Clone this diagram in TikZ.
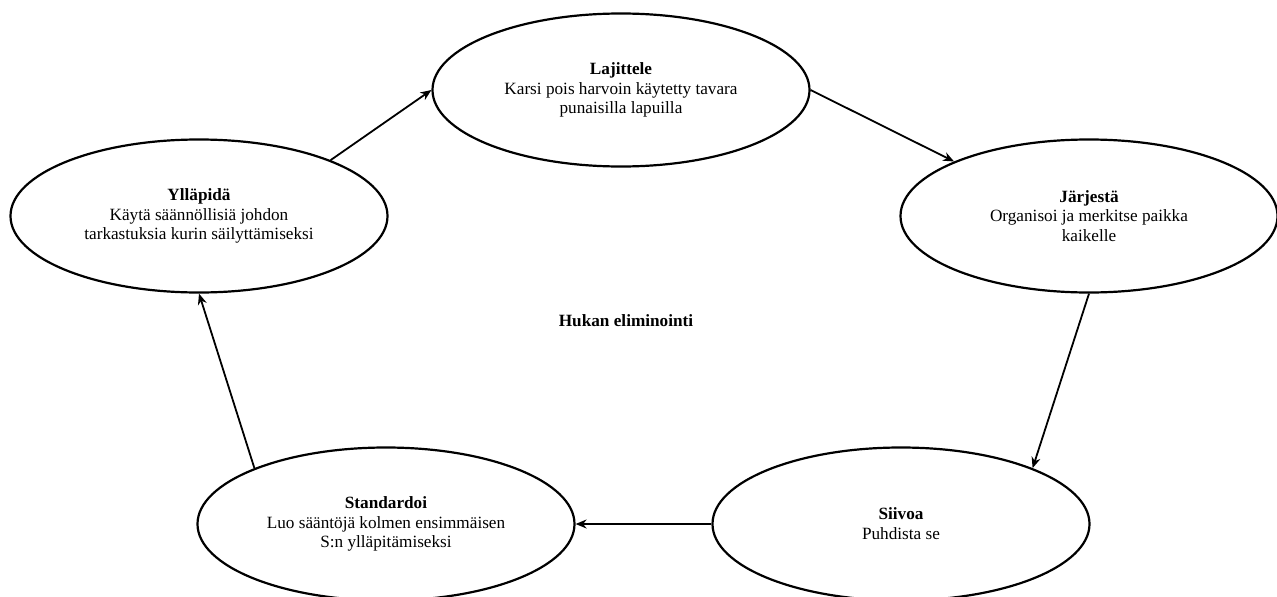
\documentclass[tikz,border=0pt]{standalone}
\usepackage{fontspec}
\setmainfont{Liberation Serif}
\usetikzlibrary{shapes.geometric,arrows.meta}
\begin{document}
\begin{tikzpicture}[x=1pt,y=-1pt,
  stage/.style={ellipse,draw=black,line width=2.2pt,minimum width=377pt,minimum height=153pt,inner sep=0pt,align=center,font=\fontsize{17.2}{19.8}\selectfont},
  conn/.style={line width=1.8pt,-{Stealth[length=11pt,width=9pt]}}]
\useasboundingbox (0,0) rectangle (1277,597);
\node[stage] (lj) at (621,90) {\textbf{Lajittele}\\Karsi pois harvoin käytetty tavara\\punaisilla lapuilla};
\node[stage] (jr) at (1089,216) {\textbf{Järjestä}\\Organisoi ja merkitse paikka\\kaikelle};
\node[stage] (sv) at (901,524) {\textbf{Siivoa}\\Puhdista se};
\node[stage] (st) at (386,524) {\textbf{Standardoi}\\Luo sääntöjä kolmen ensimmäisen\\S:n ylläpitämiseksi};
\node[stage] (yl) at (199,216) {\textbf{Ylläpidä}\\Käytä säännöllisiä johdon\\tarkastuksia kurin säilyttämiseksi};
\node[font=\fontsize{17.2}{19.8}\selectfont\bfseries] (center) at (626,321) {Hukan eliminointi};
\draw[conn] (yl.23) -- (lj.west);
\draw[conn] (lj.east) -- (jr.158);
\draw[conn] (jr.south) -- (sv.23);
\draw[conn] (sv.west) -- (st.east);
\draw[conn] (st.157) -- (yl.south);
\end{tikzpicture}
\end{document}
